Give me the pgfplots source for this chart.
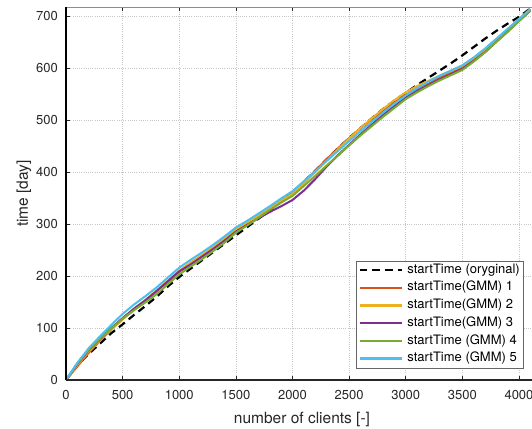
\documentclass[border=0pt]{standalone}
\usepackage{fontspec}
\setmainfont{TeX Gyre Heros}
\usepackage{pgfplots}
\usepackage{pgfplotstable}
\pgfplotsset{compat=1.18}
\definecolor{mlred}{RGB}{217,83,25}
\definecolor{mlyellow}{RGB}{237,177,32}
\definecolor{mlpurple}{RGB}{126,47,142}
\definecolor{mlgreen}{RGB}{119,172,48}
\definecolor{mlcyan}{RGB}{77,190,238}
\definecolor{axgray}{RGB}{38,38,38}
\pgfplotstableread{
x    orig g1  g2  g3  g4  g5
0    0    0   0   0   0   0
100  28   26  29  31  32  33
200  50   52  55  57  58  61
300  70   75  76  78  79  84
400  90   97  97  100 99  106
500  107  117 117 119 118 127
600  125  135 137 137 134 145
700  142  152 154 153 149 161
800  160  171 172 171 165 178
900  180  189 191 190 184 197
1000 198  208 210 209 203 216
1100 214  223 226 222 218 231
1200 230  238 240 237 232 245
1300 246  252 256 252 248 260
1400 262  270 272 268 264 276
1500 278  287 290 285 283 293
1600 294  301 303 298 297 306
1700 310  314 316 311 312 320
1800 326  330 330 323 327 334
1900 343  344 344 334 341 349
2000 360  359 358 346 354 363
2100 381  380 378 364 373 382
2200 402  402 399 386 392 401
2300 424  424 421 410 412 421
2400 445  445 443 432 431 440
2500 465  465 464 452 451 459
2600 484  484 484 472 470 478
2700 503  501 503 491 488 496
2800 521  517 521 510 506 514
2900 537  533 538 527 523 531
3000 552  548 553 543 540 547
3100 567  560 565 556 553 561
3200 581  571 575 567 565 573
3300 595  581 585 578 576 585
3400 609  591 594 588 586 595
3500 624  601 604 598 596 605
3600 640  616 619 613 612 620
3700 656  633 636 630 630 637
3800 671  652 655 650 650 656
3900 685  671 674 670 669 675
4000 698  691 694 690 690 694
4100 714  711 713 710 710 713
}\datatable
\begin{document}
\begin{tikzpicture}
\begin{axis}[
  name=ax,
  scale only axis,
  width=466pt, height=373pt,
  xmin=0, xmax=4115, ymin=0, ymax=717,
  xtick={0,500,...,4000}, ytick={0,100,...,700},
  ytick pos=left,
  tick align=inside,
  major tick length=4pt,
  tick style={axgray, line width=0.5pt},
  grid=major,
  major grid style={draw=black!22, dash pattern=on 1pt off 1.2pt, line width=0.5pt},
  axis line style={draw=black!45, line width=0.5pt},
  /pgf/number format/assume math mode=true,
  /pgf/number format/1000 sep={},
  ticklabel style={font=\fontsize{13}{15}\selectfont, text=axgray},
  xticklabel style={inner sep=0pt, yshift=-10pt},
  yticklabel style={inner sep=0pt, xshift=-8pt},
  xlabel={number of clients [-]},
  ylabel={time [day]},
  label style={font=\fontsize{15.5}{18}\selectfont, text=axgray},
  xlabel style={at={(axis description cs:0.5064,-0.085)}, anchor=north, inner sep=0pt},
  ylabel style={at={(axis description cs:-0.0901,0.5)}, anchor=center, inner sep=0pt},
  legend cell align=left,
  legend image code/.code={\draw[#1, line width=2.2pt] (0pt,0pt) -- (42pt,0pt);},
  legend style={
    at={(0.9807,0.0322)}, anchor=south east,
    font=\fontsize{13}{15}\selectfont,
    draw=black!60,
    inner xsep=3pt, inner ysep=3pt,
    row sep=5.2pt,
    nodes={inner sep=0pt, text height=9.5pt, text depth=3pt},
    /tikz/every odd column/.append style={column sep=4.3pt},
  },
]
\addplot[draw=black, line width=2.2pt, dash pattern=on 7.5pt off 5pt] table[x=x, y=orig] {\datatable};
\addlegendentry{startTime (oryginal)}
\addplot[draw=mlred, line width=2pt] table[x=x, y=g1] {\datatable};
\addlegendentry{startTime(GMM) 1}
\addplot[draw=mlyellow, line width=2pt] table[x=x, y=g2] {\datatable};
\addlegendentry{startTime(GMM) 2}
\addplot[draw=mlpurple, line width=2pt] table[x=x, y=g3] {\datatable};
\addlegendentry{startTime(GMM) 3}
\addplot[draw=mlgreen, line width=2pt] table[x=x, y=g4] {\datatable};
\addlegendentry{startTime (GMM) 4}
\addplot[draw=mlcyan, line width=2pt] table[x=x, y=g5] {\datatable};
\addlegendentry{startTime (GMM) 5}
\end{axis}
\draw[black, line width=1.6pt] (ax.south west) -- (ax.north west);
\draw[axgray, line width=1.1pt] (ax.south west) -- (ax.south east);
\pgfresetboundingbox
\path[use as bounding box] ([shift={(-66pt,-48pt)}]ax.south west) rectangle ([shift={(0pt,7pt)}]ax.north east);
\end{tikzpicture}
\end{document}
